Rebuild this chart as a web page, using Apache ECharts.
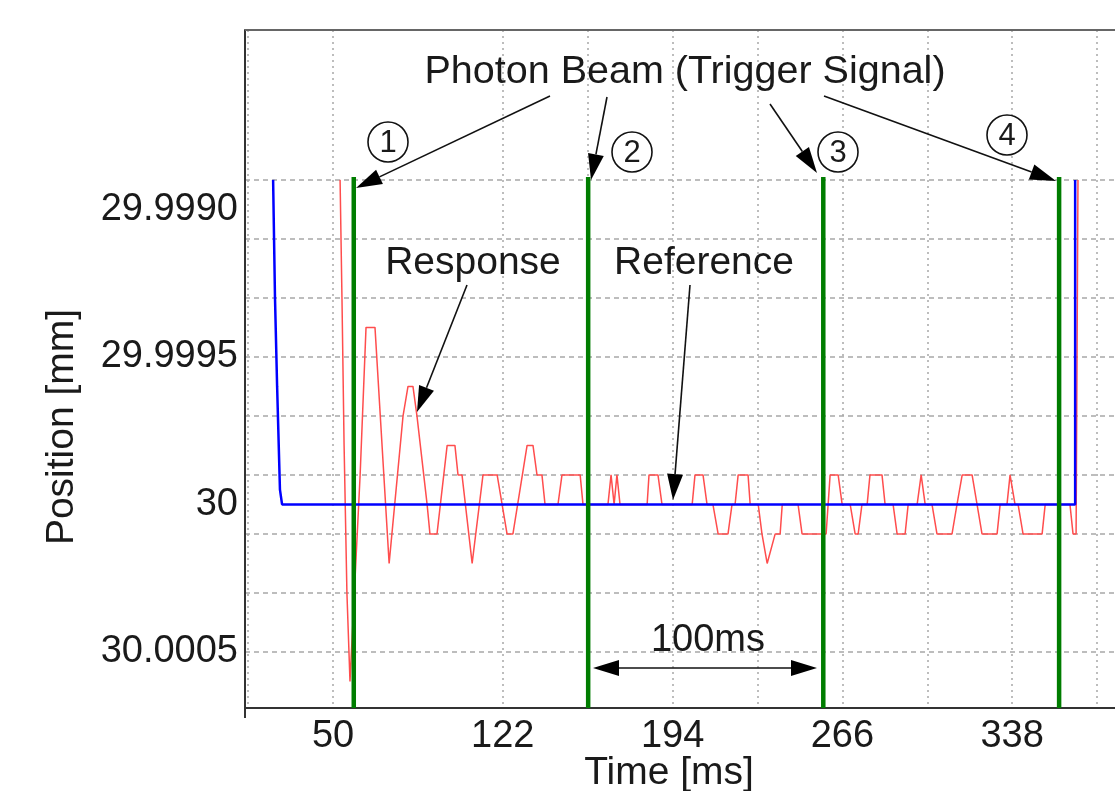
<!DOCTYPE html>
<html><head><meta charset="utf-8">
<script src="https://cdn.jsdelivr.net/npm/echarts@6/dist/echarts.min.js"></script>
<style>html,body{margin:0;padding:0;background:#fff}#c{width:1115px;height:791px}</style>
</head><body><div id="c"></div>
<script>
// ---- data ----
const xTickValues = [50, 122, 194, 266, 338];
const xGridValues = [14, 50, 122, 158, 194, 230, 266, 302, 338, 374];
const yTickValues = [29.999, 29.9995, 30, 30.0005];
const yTickLabels = ['29.9990', '29.9995', '30', '30.0005'];
const yGridValues = [29.9989, 29.9991, 29.9993, 29.9995, 29.9997, 29.9999, 30.0001, 30.0003, 30.0005];

const referenceTime = [24.6, 25.4, 26.3, 27.5, 28.4, 364.7, 364.7];
const referencePos  = [29.9989, 29.9993, 29.9996, 29.99995, 30.0, 30.0, 29.9989];

const responseTime = [53.0, 53.8, 54.7, 55.9, 57.2, 61.5, 64.0, 67.8, 73.8, 79.7, 81.8, 83.9, 85.6, 89.9, 91.1, 94.1,
  98.4, 101.7, 103.0, 104.7, 109.0, 113.6, 119.6, 123.8, 126.3, 132.3, 134.8, 136.5, 138.6, 139.9, 145.4, 147.1,
  154.8, 156.0, 166.6, 167.9, 169.2, 170.4, 171.7, 183.2, 184.0, 187.8, 189.5, 202.3, 203.5, 206.9, 208.6, 211.1,
  213.3, 217.5, 219.2, 220.5, 221.8, 226.0, 226.9, 230.3, 231.9, 234.1, 237.5, 239.6, 240.5, 247.2, 248.9, 259.1,
  260.8, 264.2, 265.9, 269.3, 271.4, 272.7, 274.3, 276.5, 277.7, 282.8, 284.1, 287.5, 289.2, 292.6, 293.9, 297.7,
  299.4, 301.1, 304.0, 306.1, 312.5, 314.6, 315.1, 316.8, 321.0, 323.1, 323.5, 325.2, 331.6, 332.9, 335.8, 337.1,
  339.2, 340.5, 342.6, 350.7, 352.0, 362.5, 363.8, 365.1, 365.9];
const responsePos = [29.9989, 29.9993, 29.9998, 30.0003, 30.0006, 29.9999, 29.9994, 29.9994, 30.0002, 29.9997, 29.9996, 29.9996, 29.9997, 30.0000, 30.0001, 30.0001,
  29.9998, 29.9998, 29.9999, 29.9999, 30.0002, 29.9999, 29.9999, 30.0001, 30.0001, 29.9998, 29.9998, 29.9999, 29.9999, 30.0, 30.0, 29.9999,
  29.9999, 30.0, 30.0, 29.9999, 30.0, 29.9999, 30.0, 30.0, 29.9999, 29.9999, 30.0, 30.0, 29.9999, 29.9999, 30.0, 30.0,
  30.0001, 30.0001, 30.0, 30.0, 29.9999, 29.9999, 30.0, 30.0, 30.0001, 30.0002, 30.0001, 30.0001, 30.0, 30.0, 30.0001, 30.0001,
  29.9999, 29.9999, 30.0, 30.0, 30.0001, 30.0001, 30.0, 30.0, 29.9999, 29.9999, 30.0, 30.0, 30.0001, 30.0001, 30.0, 30.0,
  29.9999, 30.0, 30.0, 30.0001, 30.0001, 30.0, 30.0, 29.9999, 29.9999, 30.0, 30.0, 30.0001, 30.0001, 30.0, 30.0, 29.9999,
  30.0, 30.0, 30.0001, 30.0001, 30.0, 30.0, 30.0001, 30.0001, 29.9989];

const triggerTimes = [58.8, 158.2, 257.9, 357.9];
const triggerTop = 29.99889;

// ---- chart ----
const FONT = '"Liberation Sans", Arial, Helvetica, sans-serif';
const X_MIN = 12.68, X_MAX = 381.6, Y_MIN = 29.998392, Y_MAX = 30.00069;
const TXT = '#1a1a1a';

const chart = echarts.init(document.getElementById('c'), null, {renderer: 'canvas'});

const series = [
  {name: 'Response', type: 'line', symbol: 'none', z: 2,
   data: responseTime.map((t, i) => [t, responsePos[i]]),
   lineStyle: {color: '#ff4d4d', width: 1.5}},
  {name: 'Reference', type: 'line', symbol: 'none', z: 3,
   data: referenceTime.map((t, i) => [t, referencePos[i]]),
   lineStyle: {color: '#0000ff', width: 2.5}}
];
triggerTimes.forEach((t, i) => series.push({
  name: 'Trigger ' + (i + 1), type: 'line', symbol: 'none', z: 4,
  data: [[t, triggerTop], [t, Y_MAX]],
  lineStyle: {color: '#007d00', width: 4.5}
}));

function arrowHead(x1, y1, x2, y2, len, hw) {
  const dx = x2 - x1, dy = y2 - y1, d = Math.hypot(dx, dy);
  const ux = dx / d, uy = dy / d;
  const bx = x2 - ux * len, by = y2 - uy * len;
  return {points: [[x2, y2], [bx - uy * hw, by + ux * hw], [bx + uy * hw, by - ux * hw]], base: [bx, by]};
}
function arrow(x1, y1, x2, y2) {
  const h = arrowHead(x1, y1, x2, y2, 26, 8);
  return [
    {type: 'line', shape: {x1, y1, x2: h.base[0], y2: h.base[1]}, style: {stroke: '#111', lineWidth: 1.6}, z: 100},
    {type: 'polygon', shape: {points: h.points}, style: {fill: '#000'}, z: 100}
  ];
}
function dblArrow(x1, y, x2) {
  const a = arrowHead(x2, y, x1, y, 26, 8), b = arrowHead(x1, y, x2, y, 26, 8);
  return [
    {type: 'line', shape: {x1: a.base[0], y1: y, x2: b.base[0], y2: y}, style: {stroke: '#111', lineWidth: 1.6}, z: 100},
    {type: 'polygon', shape: {points: a.points}, style: {fill: '#000'}, z: 100},
    {type: 'polygon', shape: {points: b.points}, style: {fill: '#000'}, z: 100}
  ];
}
function label(text, x, y, size, extra) {
  return Object.assign({type: 'text', x, y, z: 100,
    style: {text, fill: TXT, font: size + 'px ' + FONT, align: 'center', verticalAlign: 'middle'}}, extra || {});
}
function circled(num, x, y) {
  return [
    {type: 'circle', shape: {cx: x, cy: y, r: 20}, style: {fill: '#fff', stroke: '#111', lineWidth: 1.6}, z: 100},
    label(num, x, y + 1, 31)
  ];
}

const graphic = [].concat(
  [{type: 'line', shape: {x1: 245, y1: 30, x2: 1115, y2: 30}, style: {stroke: '#666', lineWidth: 2}, z: 50},
   {type: 'line', shape: {x1: 245, y1: 706, x2: 245, y2: 718}, style: {stroke: '#333', lineWidth: 2}, z: 50}],
  [label('Photon Beam (Trigger Signal)', 685, 72, 39.5)],
  arrow(550, 96, 356, 188),
  arrow(607, 97, 591, 180),
  arrow(770, 104, 817, 173),
  arrow(824, 96, 1056, 181),
  circled('1', 388, 142), circled('2', 632, 152), circled('3', 838, 152), circled('4', 1007, 135),
  [label('Response', 473, 263, 39)], arrow(467, 285, 417, 412),
  [label('Reference', 704, 263, 39)], arrow(690, 285, 673, 500),
  [label('100ms', 708, 641, 38)], dblArrow(593, 668, 817),
  [label('Time [ms]', 669, 773, 39)],
  [label('Position [mm]', 62, 427, 39, {rotation: Math.PI / 2})]
);

chart.setOption({
  animation: false,
  backgroundColor: '#fff',
  grid: {left: 245, right: 0, top: 30, bottom: 83},
  xAxis: {
    type: 'value', min: X_MIN, max: X_MAX,
    axisLine: {show: true, onZero: false, lineStyle: {color: '#333', width: 2}},
    axisTick: {show: false, customValues: xGridValues},
    axisLabel: {customValues: xTickValues, fontSize: 38, fontFamily: FONT, color: TXT, margin: 10,
      formatter: v => String(Math.round(v))},
    splitLine: {show: true, lineStyle: {color: '#a8a8a8', width: 1.5, type: [2, 4]}}
  },
  yAxis: {
    type: 'value', inverse: true, min: Y_MIN, max: Y_MAX,
    axisLine: {show: true, onZero: false, lineStyle: {color: '#333', width: 2}},
    axisTick: {show: false, customValues: yGridValues},
    axisLabel: {customValues: yTickValues, fontSize: 38, fontFamily: FONT, color: TXT, margin: 7,
      formatter: v => {
        const i = yTickValues.findIndex(t => Math.abs(t - v) < 1e-7);
        return i >= 0 ? yTickLabels[i] : '';
      }},
    splitLine: {show: true, lineStyle: {color: '#a8a8a8', width: 1.5, type: [5, 4]}}
  },
  series,
  graphic
});
</script></body></html>
